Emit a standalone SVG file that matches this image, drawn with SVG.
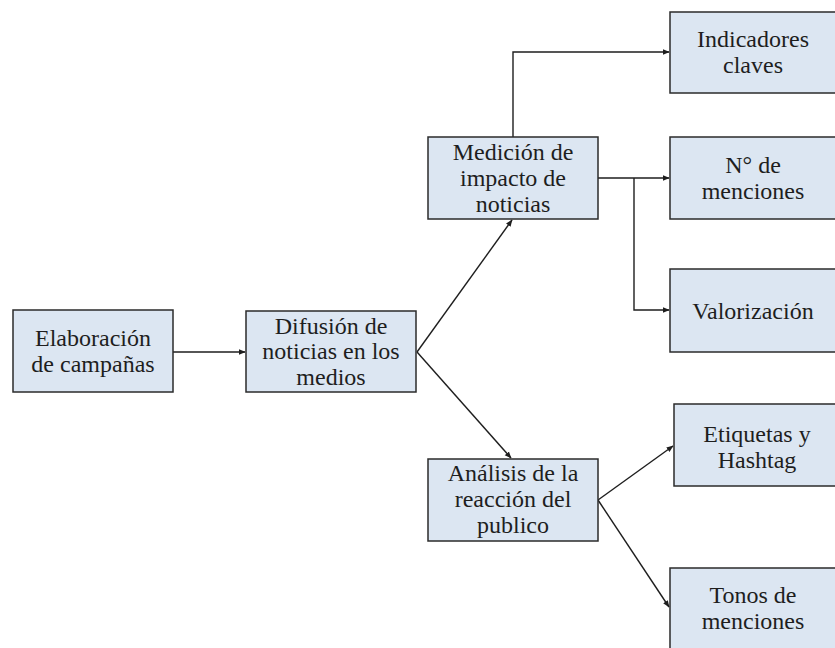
<svg xmlns="http://www.w3.org/2000/svg" width="835" height="648" viewBox="0 0 835 648">
<defs>
<style>
.box{fill:#dce6f2;stroke:#2b2b2b;stroke-width:1.5}
.t{font-size:24px;fill:#1e1e1e;text-anchor:middle}
.c{fill:none;stroke:#1e1e1e;stroke-width:1.4}
</style>
<marker id="ah" viewBox="0 0 10 10" refX="9" refY="5" markerWidth="7" markerHeight="7" orient="auto" markerUnits="userSpaceOnUse"><path d="M0,1 L10,5 L0,9 z" fill="#1e1e1e"/></marker>
</defs>
<rect width="835" height="648" fill="#ffffff"/>
<g id="connectors">
<path class="c" d="M173,352 H245" marker-end="url(#ah)"/>
<path class="c" d="M417,352 L512,220" marker-end="url(#ah)"/>
<path class="c" d="M417,352 L511,458" marker-end="url(#ah)"/>
<path class="c" d="M513,137 V52 H669" marker-end="url(#ah)"/>
<path class="c" d="M598,178 H669" marker-end="url(#ah)"/>
<path class="c" d="M634,178 V310 H669" marker-end="url(#ah)"/>
<path class="c" d="M598,500 L673,446" marker-end="url(#ah)"/>
<path class="c" d="M598,500 L669,607" marker-end="url(#ah)"/>
</g>
<g font-family="Liberation Serif, Times New Roman, DejaVu Serif, serif">
<g id="elaboracion"><rect class="box" x="13" y="310" width="160" height="82"/><text class="t" x="93" y="346">Elaboración</text><text class="t" x="93" y="372">de campañas</text></g>
<g id="difusion"><rect class="box" x="246" y="311" width="170" height="81"/><text class="t" x="331" y="334">Difusión de</text><text class="t" x="331" y="359">noticias en los</text><text class="t" x="331" y="385">medios</text></g>
<g id="medicion"><rect class="box" x="428" y="137" width="170" height="82"/><text class="t" x="513" y="160">Medición de</text><text class="t" x="513" y="186">impacto de</text><text class="t" x="513" y="212">noticias</text></g>
<g id="analisis"><rect class="box" x="428" y="459" width="170" height="82"/><text class="t" x="513" y="481">Análisis de la</text><text class="t" x="513" y="507">reacción del</text><text class="t" x="513" y="533">publico</text></g>
<g id="indicadores"><rect class="box" x="670" y="12" width="166" height="81"/><text class="t" x="753" y="47">Indicadores</text><text class="t" x="753" y="73">claves</text></g>
<g id="menciones"><rect class="box" x="670" y="137" width="166" height="82"/><text class="t" x="753" y="173">N° de</text><text class="t" x="753" y="199">menciones</text></g>
<g id="valorizacion"><rect class="box" x="670" y="269" width="166" height="83"/><text class="t" x="753" y="319">Valorización</text></g>
<g id="etiquetas"><rect class="box" x="674" y="404" width="162" height="82"/><text class="t" x="757" y="442">Etiquetas y</text><text class="t" x="757" y="468">Hashtag</text></g>
<g id="tonos"><rect class="box" x="670" y="568" width="166" height="90"/><text class="t" x="753" y="603">Tonos de</text><text class="t" x="753" y="629">menciones</text></g>
</g>
</svg>
